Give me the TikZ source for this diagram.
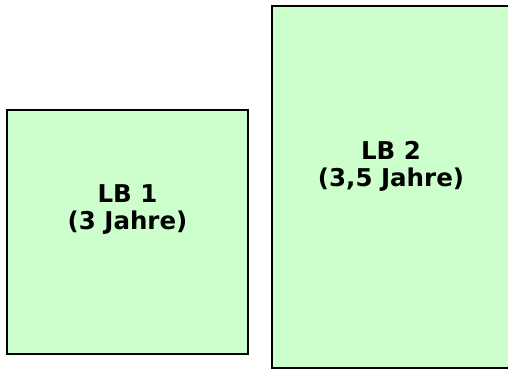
\documentclass[tikz,border=0pt]{standalone}
\usepackage{fontspec}
\setmainfont{DejaVu Sans}
\definecolor{boxgreen}{HTML}{CCFFCC}
\begin{document}
\begin{tikzpicture}[x=1pt,y=1pt,
  lbbox/.style={draw=black, fill=boxgreen, line width=2pt, inner sep=0pt, outer sep=0pt},
  lbtext/.style={align=center, inner sep=0pt, font=\bfseries\fontsize{24.5}{27}\selectfont}]
\useasboundingbox (0,0) rectangle (508,369);
\clip (0,0) rectangle (508,369);
\node[lbbox, minimum width=241pt, minimum height=244pt] (box1) at (127.5,137) {};
\node[lbbox, minimum width=238pt, minimum height=362pt] (box2) at (391,182) {};
\node[lbtext] (t1) at (127.5,159) {LB 1\\(3 Jahre)};
\node[lbtext] (t2) at (391,203) {LB 2\\(3,5 Jahre)};
\end{tikzpicture}
\end{document}
